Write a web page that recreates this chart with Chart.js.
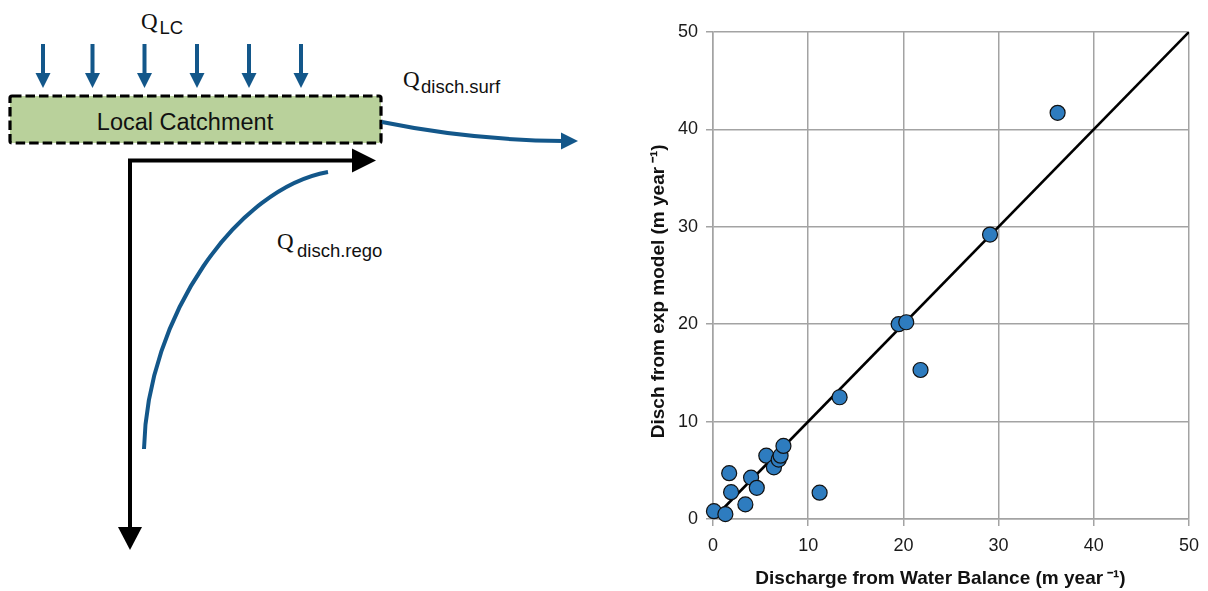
<!DOCTYPE html>
<html>
<head>
<meta charset="utf-8">
<script src="https://cdn.jsdelivr.net/npm/chart.js@4/dist/chart.umd.min.js"></script>
<style>
  html, body { margin: 0; padding: 0; background: #fff; }
  body { width: 1208px; height: 591px; position: relative; overflow: hidden; }
  #diagram { position: absolute; left: 0; top: 0; }
  #wrap { position: absolute; left: 630px; top: 0; width: 578px; height: 591px; }
</style>
</head>
<body>
<svg id="diagram" width="630" height="591" xmlns="http://www.w3.org/2000/svg">
  <g fill="#13578a" stroke="none" id="rainArrows"></g>
  <rect x="10" y="96" width="371" height="47" rx="2" fill="#b9d19b" stroke="#000" stroke-width="3.2" stroke-dasharray="9.5 4"/>
  <text x="185" y="130" text-anchor="middle" font-family="Liberation Sans, Arial, sans-serif" font-size="23.5" fill="#111">Local Catchment</text>
  <text font-family="Liberation Serif, Times New Roman, serif" font-size="23" fill="#111" x="141" y="29">Q</text>
  <text font-family="Liberation Sans, Arial, sans-serif" font-size="18.5" fill="#111" x="159.5" y="34">LC</text>
  <text font-family="Liberation Serif, Times New Roman, serif" font-size="23" fill="#111" x="403" y="87">Q</text>
  <text font-family="Liberation Sans, Arial, sans-serif" font-size="18.5" fill="#111" x="421" y="93">disch.surf</text>
  <text font-family="Liberation Serif, Times New Roman, serif" font-size="23" fill="#111" x="277" y="249">Q</text>
  <text font-family="Liberation Sans, Arial, sans-serif" font-size="18.5" fill="#111" x="297" y="257">disch.rego</text>
  <path d="M382,122 Q470,140 563,141" stroke="#13578a" stroke-width="4" fill="none"/>
  <polygon points="561,132.5 561,149.5 578,141" fill="#13578a"/>
  <path d="M130,528 L130,160.5 L353,160.5" stroke="#000" stroke-width="4" fill="none" stroke-linejoin="miter"/>
  <polygon points="118,527 142,527 130,550" fill="#000"/>
  <polygon points="352,148.5 352,172.5 376,160.5" fill="#000"/>
  <path d="M144,449 C147,315 238,188 328,172" stroke="#13578a" stroke-width="4" fill="none"/>
</svg>
<div id="wrap"><canvas id="c" width="578" height="591"></canvas></div>
<script>
// Scatter data
const waterBalance = [0.1, 1.3, 1.7, 1.9, 3.4, 4.0, 4.6, 5.6, 6.4, 6.9, 7.1, 7.4, 11.2, 13.3, 19.5, 20.3, 21.8, 29.1, 36.2];
const expModel     = [0.8, 0.5, 4.7, 2.75, 1.5, 4.25, 3.2, 6.5, 5.3, 6.1, 6.5, 7.5, 2.7, 12.5, 20.0, 20.2, 15.3, 29.2, 41.7];
// 1:1 reference line
const lineX = [1, 50];
const lineY = [1, 50];
const tickValues = [0, 10, 20, 30, 40, 50];
// trailing spaces nudge the centred titles like in the original figure
const xTitle = 'Discharge from Water Balance (m year\u2009\u207B\u00B9)    ';
const yTitle = 'Disch from exp model (m year\u2009\u207B\u00B9)      ';

// Diagram rain arrows (decorative)
const rainX = [43, 92.5, 144.5, 197, 249, 301];
const g = document.getElementById('rainArrows');
rainX.forEach(x => {
  const r = document.createElementNS('http://www.w3.org/2000/svg', 'rect');
  r.setAttribute('x', x - 2); r.setAttribute('y', 44); r.setAttribute('width', 4); r.setAttribute('height', 31);
  g.appendChild(r);
  const p = document.createElementNS('http://www.w3.org/2000/svg', 'polygon');
  p.setAttribute('points', `${x-7.5},73 ${x+7.5},73 ${x},88`);
  g.appendChild(p);
});

const pts = waterBalance.map((x, i) => ({ x, y: expModel[i] }));
const linePts = lineX.map((x, i) => ({ x, y: lineY[i] }));

const gridColor = '#a3a3a3';
const tickFont = { family: 'Liberation Sans, Arial, sans-serif', size: 18 };
const titleFont = { family: 'Liberation Sans, Arial, sans-serif', size: 19, weight: 'bold' };

new Chart(document.getElementById('c'), {
  type: 'scatter',
  data: {
    datasets: [
      {
        label: 'points',
        data: pts,
        backgroundColor: '#2e7cbf',
        borderColor: '#111',
        borderWidth: 1.2,
        pointRadius: 7.5,
        pointHoverRadius: 7.5,
        clip: false
      },
      {
        label: '1:1',
        data: linePts,
        showLine: true,
        borderColor: '#000',
        borderWidth: 2.6,
        pointRadius: 0,
        fill: false
      }
    ]
  },
  options: {
    responsive: false,
    animation: false,
    layout: { padding: { left: 17, right: 16, top: 32, bottom: 1 } },
    plugins: { legend: { display: false }, tooltip: { enabled: false } },
    scales: {
      x: {
        type: 'linear', min: 0, max: 50,
        afterBuildTicks: s => { s.ticks = tickValues.map(v => ({ value: v })); },
        afterFit: s => { s.height = 71; },
        ticks: { font: tickFont, color: '#1a1a1a', padding: 9 },
        grid: { color: gridColor, lineWidth: 1.5, tickLength: 7, tickColor: gridColor },
        border: { color: gridColor, width: 1.5 },
        title: { display: true, text: xTitle, font: titleFont, color: '#111', padding: 0 }
      },
      y: {
        type: 'linear', min: 0, max: 50,
        afterBuildTicks: s => { s.ticks = tickValues.map(v => ({ value: v })); },
        afterFit: s => { s.width = 66; },
        ticks: { font: tickFont, color: '#1a1a1a', padding: 8 },
        grid: { color: gridColor, lineWidth: 1.5, tickLength: 7, tickColor: gridColor },
        border: { color: gridColor, width: 1.5 },
        title: { display: true, text: yTitle, font: titleFont, color: '#111', padding: 0 }
      }
    }
  }
});
</script>
</body>
</html>
